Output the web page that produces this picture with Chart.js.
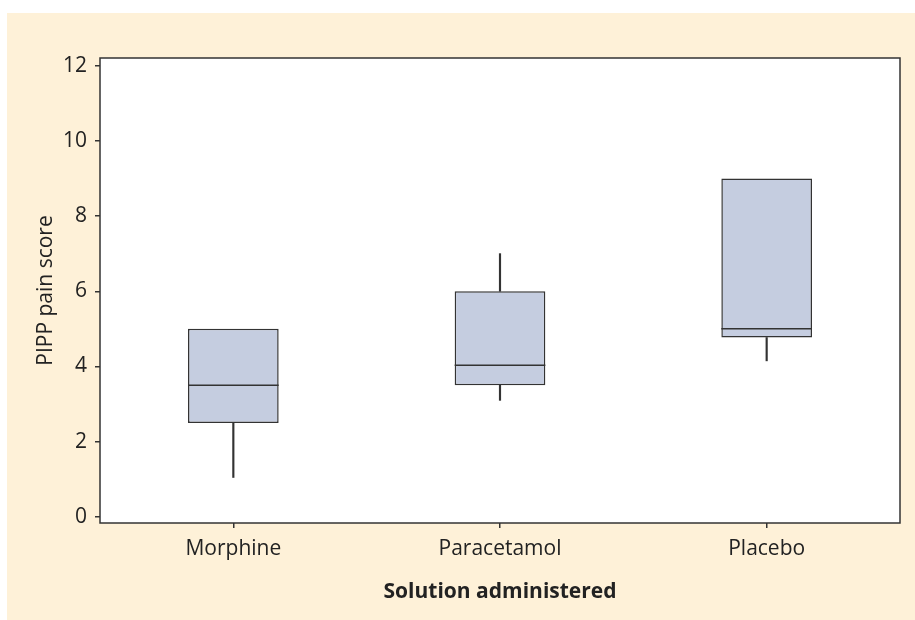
<!DOCTYPE html>
<html>
<head>
<meta charset="utf-8">
<script src="https://cdn.jsdelivr.net/npm/chart.js@4.4.1/dist/chart.umd.min.js"></script>
<style>
  html, body { margin: 0; padding: 0; background: #ffffff; }
  #wrap {
    position: absolute;
    left: 7px;
    top: 13px;
    width: 908px;
    height: 607px;
    background: #fef1d8;
  }
</style>
</head>
<body>
<div id="wrap"><canvas id="chart"></canvas></div>
<script>
// Box plot summary per treatment
const categories = ['Morphine', 'Paracetamol', 'Placebo'];
const minVals = [1.05, 3.1, 4.15];
const q1Vals = [2.5, 3.5, 4.77];
const medianVals = [3.5, 4.03, 5.0];
const q3Vals = [5.0, 6.0, 9.0];
const maxVals = [5.0, 7.0, 9.0];
const yTicks = [0, 2, 4, 6, 8, 10, 12];

const lineColor = '#333333';
const boxFill = '#c5cde0';
const fontFamily = '"Open Sans", "Noto Sans", sans-serif';

// floating bars for boxes and whiskers
const boxData = categories.map((c, i) => [q1Vals[i], q3Vals[i]]);
const upperWhisker = categories.map((c, i) => maxVals[i] > q3Vals[i] ? [q3Vals[i], maxVals[i]] : null);
const lowerWhisker = categories.map((c, i) => minVals[i] < q1Vals[i] ? [minVals[i], q1Vals[i]] : null);

// white plot area + frame + median lines
const boxPlotExtras = {
  id: 'boxPlotExtras',
  beforeDatasetsDraw(chart) {
    const { ctx, chartArea: a } = chart;
    ctx.save();
    ctx.fillStyle = '#ffffff';
    ctx.fillRect(a.left, a.top, a.right - a.left, a.bottom - a.top);
    ctx.restore();
  },
  afterDatasetsDraw(chart) {
    const { ctx, chartArea: a } = chart;
    const yScale = chart.scales.y;
    const meta = chart.getDatasetMeta(2);
    ctx.save();
    ctx.strokeStyle = lineColor;
    ctx.lineWidth = 1.5;
    meta.data.forEach((bar, i) => {
      const y = yScale.getPixelForValue(medianVals[i]);
      ctx.beginPath();
      ctx.moveTo(bar.x - bar.width / 2, y);
      ctx.lineTo(bar.x + bar.width / 2, y);
      ctx.stroke();
    });
    ctx.strokeRect(a.left, a.top, a.right - a.left, a.bottom - a.top);
    ctx.restore();
  }
};

new Chart(document.getElementById('chart'), {
  type: 'bar',
  data: {
    labels: categories,
    datasets: [
      {
        label: 'Upper whisker',
        data: upperWhisker,
        backgroundColor: lineColor,
        barThickness: 1.5,
        grouped: false,
        borderWidth: 0
      },
      {
        label: 'Lower whisker',
        data: lowerWhisker,
        backgroundColor: lineColor,
        barThickness: 1.5,
        grouped: false,
        borderWidth: 0
      },
      {
        label: 'Box',
        data: boxData,
        backgroundColor: boxFill,
        borderColor: lineColor,
        borderWidth: 1.5,
        borderSkipped: false,
        grouped: false,
        barPercentage: 0.34,
        categoryPercentage: 1
      }
    ]
  },
  options: {
    responsive: true,
    maintainAspectRatio: false,
    animation: false,
    layout: { padding: { top: 45, right: 15, left: 0, bottom: 0 } },
    plugins: {
      legend: { display: false },
      tooltip: { enabled: false }
    },
    scales: {
      x: {
        grid: {
          display: true,
          offset: false,
          drawOnChartArea: false,
          drawTicks: true,
          tickLength: 5,
          color: lineColor,
          lineWidth: 1.5
        },
        border: { display: false },
        ticks: {
          color: '#222222',
          padding: 8,
          font: { family: fontFamily, size: 21 }
        },
        title: {
          display: true,
          text: 'Solution administered',
          color: '#222222',
          padding: { top: 0, bottom: 15 },
          font: { family: fontFamily, size: 21, weight: 'bold' }
        },
        afterFit(scale) { scale.height = 97; }
      },
      y: {
        min: -0.16,
        max: 12.2,
        afterBuildTicks(scale) {
          scale.ticks = yTicks.map(v => ({ value: v }));
        },
        grid: {
          display: true,
          drawOnChartArea: false,
          drawTicks: true,
          tickLength: 5,
          color: lineColor,
          lineWidth: 1.5
        },
        border: { display: false },
        ticks: {
          color: '#222222',
          padding: 8,
          font: { family: fontFamily, size: 21 }
        },
        title: {
          display: true,
          text: 'PIPP pain score',
          color: '#222222',
          padding: { top: 26, bottom: 0 },
          font: { family: fontFamily, size: 21 }
        },
        afterFit(scale) { scale.width = 93; }
      }
    }
  },
  plugins: [boxPlotExtras]
});
</script>
</body>
</html>
